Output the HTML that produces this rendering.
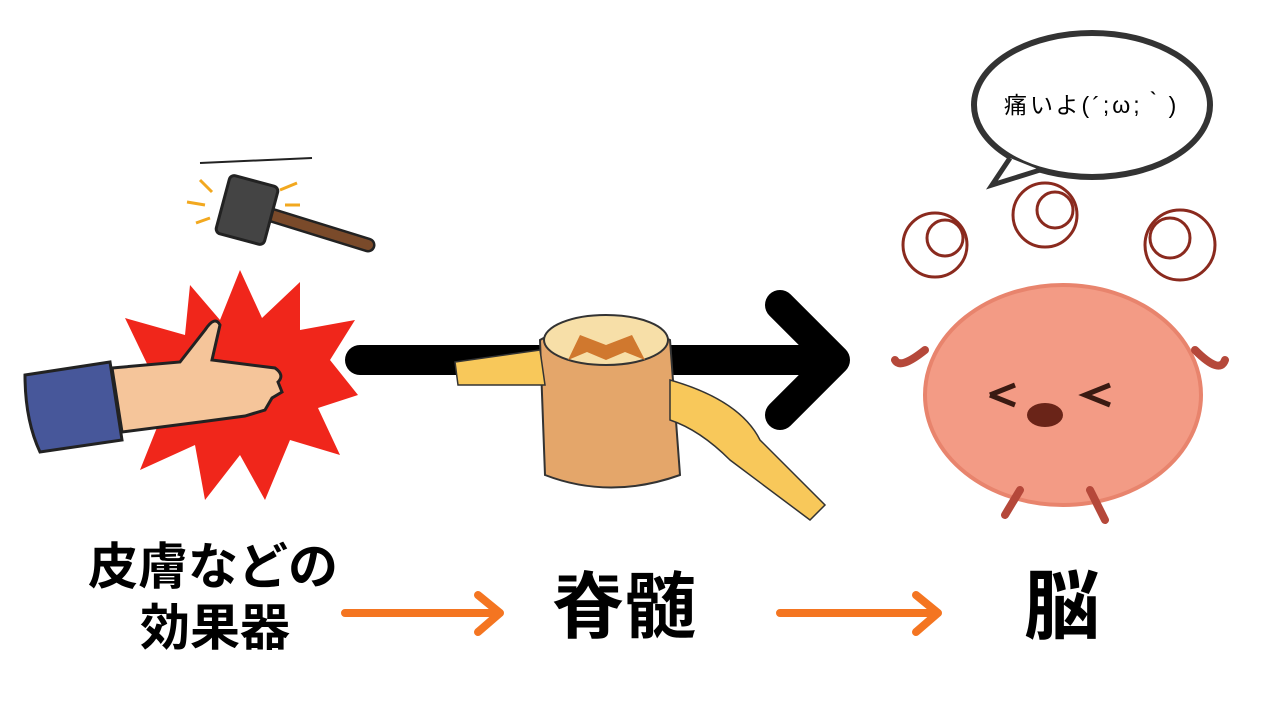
<!DOCTYPE html>
<html><head><meta charset="utf-8"><style>
body{margin:0;width:1280px;height:720px;background:#fff;overflow:hidden;position:relative;font-family:"Liberation Sans","Noto Sans CJK JP",sans-serif}
.t{position:absolute;font-weight:bold;color:#000;white-space:nowrap}
</style></head><body>
<svg width="1280" height="720" style="position:absolute;left:0;top:0">
<polygon points="240,270 262,318 300,282 300,330 355,320 330,360 358,395 318,408 340,455 290,440 265,500 240,455 205,500 195,445 140,470 160,420 118,395 150,370 125,318 185,335 190,285 220,320" fill="#f0261b"/>
<path d="M25,375 L110,362 L122,440 L40,452 Q25,420 25,375Z" fill="#47579a" stroke="#222" stroke-width="3"/>
<path d="M112,368 L180,362 L205,330 Q215,315 220,325 L212,360 L275,368 Q285,375 278,382 L282,392 L272,398 L265,410 L245,416 L200,422 L122,432Z" fill="#f5c59a" stroke="#222" stroke-width="3"/>
<path d="M200,163 L312,158" stroke="#222" stroke-width="2"/>
<path d="M255,210 L368,245" stroke="#222" stroke-width="15" stroke-linecap="round"/>
<path d="M255,210 L368,245" stroke="#7a4a2a" stroke-width="10" stroke-linecap="round"/>
<rect x="222" y="180" width="50" height="60" rx="5" transform="rotate(15 247 210)" fill="#444" stroke="#222" stroke-width="3"/>
<g stroke="#f2a81f" stroke-width="3"><path d="M187,202 L205,205"/><path d="M200,180 L212,192"/><path d="M196,223 L210,218"/><path d="M280,190 L297,183"/><path d="M285,205 L300,205"/></g>
<path d="M360,360 L835,360 M780,305 L835,360 L780,415" stroke="#000" stroke-width="30" stroke-linecap="round" stroke-linejoin="round" fill="none"/>
<path d="M540,340 Q600,305 670,340 L680,475 Q610,500 545,475Z" fill="#e4a66a" stroke="#333" stroke-width="2"/>
<ellipse cx="606" cy="340" rx="62" ry="25" fill="#f7dfa8" stroke="#333" stroke-width="2"/>
<path d="M580,335 L606,345 L632,335 L645,360 L625,352 L606,360 L587,352 L568,360Z" fill="#d0782e"/>
<path d="M455,362 L540,350 L545,385 L458,385Z" fill="#f8c85a" stroke="#333" stroke-width="1.5"/>
<path d="M670,380 Q740,400 760,440 Q790,470 825,505 L810,520 Q770,490 730,460 Q700,430 670,420Z" fill="#f8c85a" stroke="#333" stroke-width="1.5"/>
<ellipse cx="1063" cy="395" rx="138" ry="110" fill="#f39b85" stroke="#e8846d" stroke-width="4"/>
<path d="M990,395 L1015,385 M990,395 L1015,405 M1110,385 L1085,395 L1110,405" stroke="#3a1a12" stroke-width="5" fill="none"/>
<ellipse cx="1045" cy="415" rx="18" ry="12" fill="#6a2418"/>
<path d="M925,350 Q900,370 895,360 M1195,350 Q1220,375 1225,360 M1020,490 L1005,515 M1090,490 L1105,520" stroke="#b5483a" stroke-width="8" stroke-linecap="round" fill="none"/>
<g fill="none" stroke="#8a2a1e" stroke-width="3">
<circle cx="935" cy="245" r="32"/><circle cx="945" cy="238" r="18"/><circle cx="1045" cy="215" r="32"/><circle cx="1055" cy="210" r="18"/><circle cx="1180" cy="245" r="35"/><circle cx="1170" cy="238" r="20"/>
</g>
<ellipse cx="1092" cy="105" rx="118" ry="72" fill="#fff" stroke="#333" stroke-width="6"/>
<path d="M1010,158 L992,185 L1040,170" fill="#fff" stroke="#333" stroke-width="5"/>
<path d="M345,613 L500,613 M478,595 L500,613 L478,632" stroke="#f47521" stroke-width="8" stroke-linecap="round" stroke-linejoin="round" fill="none"/>
<path d="M780,613 L938,613 M916,595 L938,613 L916,632" stroke="#f47521" stroke-width="8" stroke-linecap="round" stroke-linejoin="round" fill="none"/>
</svg>
<div class="t" style="left:1004px;top:86px;font-size:23px;font-weight:normal;letter-spacing:3px">痛いよ(´;ω;｀)</div>
<div class="t" style="left:88px;top:537px;font-size:50px;line-height:60px">皮膚などの</div>
<div class="t" style="left:140px;top:598px;font-size:50px;line-height:60px">効果器</div>
<div class="t" style="left:552px;top:565px;font-size:72px;line-height:86px">脊髄</div>
<div class="t" style="left:1024px;top:565px;font-size:76px;line-height:86px">脳</div>
</body></html>
